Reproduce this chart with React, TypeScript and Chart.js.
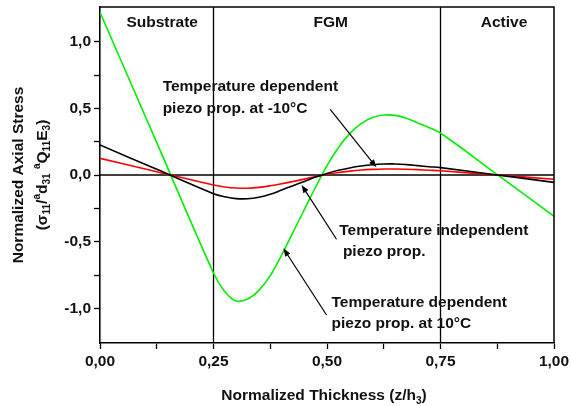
import React, { useEffect, useRef } from "react";
import { Chart, registerables } from "chart.js";

Chart.register(...registerables);

const FAMILY = "'Liberation Sans', Arial, Helvetica, sans-serif";
const FS = 15.5;

// Normalized thickness z/h3
const thickness = [0, 0.125, 0.25, 0.275, 0.3, 0.325, 0.35, 0.375, 0.4, 0.425, 0.45, 0.475, 0.5, 0.525, 0.55, 0.575, 0.6, 0.625, 0.65, 0.675, 0.7, 0.725, 0.75, 0.875, 1.0];

// Temperature dependent piezo prop. at 10°C (green)
const stressDep10 = [1.22, 0.2425, -0.735, -0.875, -0.945, -0.93, -0.865, -0.755, -0.6, -0.43, -0.26, -0.09, 0.07, 0.205, 0.31, 0.385, 0.432, 0.45, 0.447, 0.425, 0.39, 0.355, 0.315, 0.003, -0.31];

// Temperature dependent piezo prop. at -10°C (black)
const stressDepMinus10 = [0.225, 0.0425, -0.14, -0.163, -0.177, -0.178, -0.167, -0.145, -0.113, -0.08, -0.048, -0.015, 0.012, 0.035, 0.053, 0.067, 0.077, 0.082, 0.083, 0.078, 0.07, 0.062, 0.055, 0.0, -0.055];

// Temperature independent piezo prop. (red)
const stressIndep = [0.125, 0.025, -0.075, -0.09, -0.098, -0.099, -0.093, -0.081, -0.066, -0.049, -0.031, -0.012, 0.006, 0.019, 0.029, 0.037, 0.042, 0.045, 0.045, 0.043, 0.04, 0.036, 0.032, 0.0, -0.032];

const layerBounds = [0.25, 0.75];
const layerNames = ["Substrate", "FGM", "Active"];
const layerLabelX = [0.137, 0.508, 0.89];
const layerLabelY = 1.11;

type Part = { t: string; sub?: boolean; sup?: boolean };

const notes = [
  { lines: ["Temperature dependent", "piezo prop. at -10°C"], x: [0.138, 0.138], y: [0.632, 0.463], from: [0.507, 0.493], to: [0.609, 0.058] },
  { lines: ["Temperature independent", "piezo prop."], x: [0.527, 0.535], y: [-0.45, -0.608], from: [0.521, -0.482], to: [0.444, -0.075] },
  { lines: ["Temperature dependent", "piezo prop. at 10°C"], x: [0.51, 0.51], y: [-0.988, -1.15], from: [0.499, -1.05], to: [0.404, -0.55] },
];

const xTitle: Part[] = [{ t: "Normalized Thickness (z/h" }, { t: "3", sub: true }, { t: ")" }];
const yTitle1: Part[] = [{ t: "Normalized Axial Stress" }];
const yTitle2: Part[] = [
  { t: "(σ" }, { t: "11", sub: true }, { t: "/" }, { t: "a", sup: true }, { t: "d" }, { t: "31", sub: true },
  { t: " " }, { t: "a", sup: true }, { t: "Q" }, { t: "11", sub: true }, { t: "E" }, { t: "3", sub: true }, { t: ")" },
];

function drawRich(ctx: CanvasRenderingContext2D, parts: Part[], x: number, y: number, align: "left" | "center", size: number) {
  const fonts = parts.map((p) => `bold ${p.sub || p.sup ? size * 0.65 : size}px ${FAMILY}`);
  const widths = parts.map((p, i) => {
    ctx.font = fonts[i];
    return ctx.measureText(p.t).width;
  });
  const total = widths.reduce((a, b) => a + b, 0);
  let cx = align === "center" ? x - total / 2 : x;
  ctx.textAlign = "left";
  ctx.textBaseline = "alphabetic";
  parts.forEach((p, i) => {
    ctx.font = fonts[i];
    const dy = p.sub ? size * 0.25 : p.sup ? -size * 0.42 : 0;
    ctx.fillText(p.t, cx, y + dy);
    cx += widths[i];
  });
}

function arrow(ctx: CanvasRenderingContext2D, x1: number, y1: number, x2: number, y2: number) {
  const ang = Math.atan2(y2 - y1, x2 - x1);
  const L = 8, W = 3;
  ctx.beginPath();
  ctx.moveTo(x1, y1);
  ctx.lineTo(x2 - Math.cos(ang) * L * 0.8, y2 - Math.sin(ang) * L * 0.8);
  ctx.stroke();
  ctx.beginPath();
  ctx.moveTo(x2, y2);
  ctx.lineTo(x2 - Math.cos(ang) * L + Math.sin(ang) * W, y2 - Math.sin(ang) * L - Math.cos(ang) * W);
  ctx.lineTo(x2 - Math.cos(ang) * L - Math.sin(ang) * W, y2 - Math.sin(ang) * L + Math.cos(ang) * W);
  ctx.closePath();
  ctx.fill();
}

const overlay = {
  id: "overlay",
  beforeDatasetsDraw(chart: any) {
    const { ctx, chartArea: a, scales } = chart;
    const x = scales.x, y = scales.y;
    ctx.save();
    ctx.strokeStyle = "#000";
    ctx.lineWidth = 1.3;
    layerBounds.forEach((v) => {
      const px = x.getPixelForValue(v);
      ctx.beginPath();
      ctx.moveTo(px, a.top);
      ctx.lineTo(px, a.bottom);
      ctx.stroke();
    });
    const py0 = y.getPixelForValue(0);
    ctx.beginPath();
    ctx.moveTo(a.left, py0);
    ctx.lineTo(a.right, py0);
    ctx.stroke();
    ctx.restore();
  },
  afterDraw(chart: any) {
    const { ctx, chartArea: a, scales } = chart;
    const x = scales.x, y = scales.y;
    ctx.save();
    ctx.strokeStyle = "#000";
    ctx.fillStyle = "#000";
    ctx.lineWidth = 1.5;
    ctx.beginPath();
    ctx.moveTo(a.left, a.top);
    ctx.lineTo(a.right, a.top);
    ctx.lineTo(a.right, a.bottom);
    ctx.stroke();

    ctx.fillStyle = "#111";
    layerNames.forEach((n, i) => {
      drawRich(ctx, [{ t: n }], x.getPixelForValue(layerLabelX[i]), y.getPixelForValue(layerLabelY), "center", FS);
    });

    notes.forEach((n) => {
      n.lines.forEach((l, i) => {
        drawRich(ctx, [{ t: l }], x.getPixelForValue(n.x[i]), y.getPixelForValue(n.y[i]), "left", FS);
      });
      ctx.lineWidth = 1.2;
      ctx.strokeStyle = "#000";
      ctx.fillStyle = "#000";
      arrow(ctx, x.getPixelForValue(n.from[0]), y.getPixelForValue(n.from[1]), x.getPixelForValue(n.to[0]), y.getPixelForValue(n.to[1]));
      ctx.fillStyle = "#111";
    });

    // axis titles
    drawRich(ctx, xTitle, (a.left + a.right) / 2 - 3, a.bottom + 57, "center", FS);
    const cy = (a.top + a.bottom) / 2;
    ctx.save();
    ctx.translate(a.left - 77, cy);
    ctx.rotate(-Math.PI / 2);
    drawRich(ctx, yTitle1, 0, 0, "center", FS);
    ctx.restore();
    ctx.save();
    ctx.translate(a.left - 53.5, cy);
    ctx.rotate(-Math.PI / 2);
    drawRich(ctx, yTitle2, 0, 0, "center", FS);
    ctx.restore();
    ctx.restore();
  },
};

const toPts = (vals: number[]) => thickness.map((t, i) => ({ x: t, y: vals[i] }));

export default function App() {
  const ref = useRef<HTMLCanvasElement>(null);
  useEffect(() => {
    if (!ref.current) return;
    Chart.defaults.font.family = FAMILY;
    const lineStyle = { borderWidth: 1.6, pointRadius: 0, tension: 0.35, fill: false };
    const chart = new Chart(ref.current, {
      type: "line",
      data: {
        datasets: [
          { label: "dep -10", data: toPts(stressDepMinus10), borderColor: "#000", ...lineStyle },
          { label: "indep", data: toPts(stressIndep), borderColor: "#ff0000", ...lineStyle },
          { label: "dep 10", data: toPts(stressDep10), borderColor: "#00ee00", ...lineStyle },
        ],
      },
      options: {
        animation: false,
        responsive: false,
        events: [],
        layout: { padding: { left: 0, right: 17, top: 7, bottom: 0 } },
        plugins: { legend: { display: false }, tooltip: { enabled: false }, title: { display: false } },
        scales: {
          x: {
            type: "linear",
            min: 0,
            max: 1,
            afterFit: (s: any) => { s.height = 63; s.paddingLeft = 0; s.paddingRight = 0; },
            ticks: {
              stepSize: 0.125,
              autoSkip: false,
              maxRotation: 0,
              padding: 3,
              color: "#111",
              font: { size: FS, weight: "bold", family: FAMILY },
              callback: (v: any) => {
                const n = Number(v);
                return Math.abs(n * 4 - Math.round(n * 4)) < 1e-6 ? n.toFixed(2).replace(".", ",") : "";
              },
            },
            grid: { drawOnChartArea: false, color: "#000", tickLength: 6, tickWidth: 1.3 },
            border: { color: "#000", width: 1.6 },
          },
          y: {
            type: "linear",
            min: -1.26,
            max: 1.26,
            afterFit: (s: any) => { s.width = 100; s.paddingTop = 0; s.paddingBottom = 0; },
            afterBuildTicks: (s: any) => {
              s.ticks = s.ticks.filter((t: any) => Math.abs(t.value * 4 - Math.round(t.value * 4)) < 1e-6);
            },
            ticks: {
              stepSize: 0.25,
              autoSkip: false,
              padding: 3,
              color: "#111",
              font: { size: FS, weight: "bold", family: FAMILY },
              callback: (v: any) => {
                const n = Number(v);
                if (Math.abs(n * 2 - Math.round(n * 2)) > 1e-6) return "";
                const r = Math.round(n * 2) / 2;
                return (r === 0 ? "0.0" : r.toFixed(1)).replace(".", ",");
              },
            },
            grid: { drawOnChartArea: false, color: "#000", tickLength: 6, tickWidth: 1.3 },
            border: { color: "#000", width: 1.6 },
          },
        },
      } as any,
      plugins: [overlay],
    });
    return () => chart.destroy();
  }, []);
  return (
    <div style={{ position: "fixed", left: 0, top: 0, width: 571, height: 406, background: "#fff" }}>
      <canvas ref={ref} width={571} height={406} style={{ display: "block" }} />
    </div>
  );
}
